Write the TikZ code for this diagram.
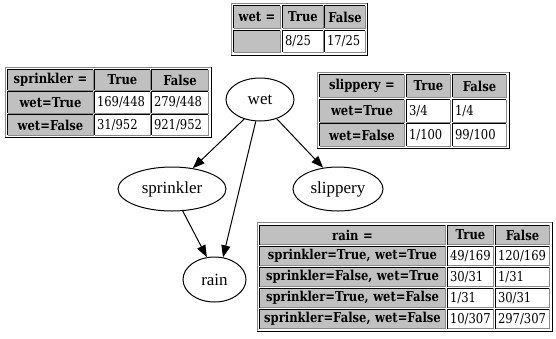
\documentclass[tikz,border=0pt]{standalone}
\usepackage{fontspec}
\setmainfont{DejaVu Serif}[FakeStretch=0.85]
\newfontfamily\ellfont{Liberation Serif}
\usetikzlibrary{arrows.meta,shapes.geometric}
\definecolor{hdr}{HTML}{C0C0C0}
\definecolor{lite}{HTML}{8A8A8A}
\tikzset{
  hcell/.style={fill=hdr, font=\bfseries\fontsize{13.6}{15}\selectfont, align=center, inner xsep=2pt, inner ysep=0pt},
  dcell/.style={fill=white, font=\fontsize{13.6}{15}\selectfont, align=left, inner xsep=2pt, inner ysep=0pt},
  celldark/.style={draw=black, line width=1pt},
  celllite/.style={draw=lite, line width=1pt},
  outerlite/.style={draw=lite, line width=1pt},
  outerdark/.style={draw=black, line width=1pt},
  var/.style={ellipse, draw=black, line width=1pt, inner sep=0pt, font=\ellfont\fontsize{17}{20}\selectfont},
  edge/.style={draw=black, line width=1pt, -{Triangle[length=12pt,width=9pt]}},
}
\newcommand{\mkcell}[7]{%
  \pgfmathsetmacro{\celltw}{#4-4}%
  \node[#6, text width=\celltw pt, minimum height=#5pt] (#1) at (#2,#3) {#7};
  \draw[celldark] (#1.south west) |- (#1.north east);
  \draw[celllite] (#1.north east) |- (#1.south west);
}
\newcommand{\mkouter}[4]{%
  \draw[outerlite] (#1,#4) -- (#1,#2) -- (#3,#2);
  \draw[outerdark] (#3,#2) -- (#3,#4) -- (#1,#4);
}
\begin{document}
\begin{tikzpicture}[x=1pt,y=-1pt]
\useasboundingbox[fill=white] (0,0) rectangle (556,338);
% wet table
\mkouter{231}{3}{367}{55}
\mkcell{wh1}{257}{17}{46}{22}{hcell}{wet =}
\mkcell{wh2}{303}{17}{40}{22}{hcell}{True}
\mkcell{wh3}{345}{17}{40}{22}{hcell}{False}
\mkcell{wr1}{257}{41.5}{46}{21}{hcell}{}
\mkcell{wd1}{303}{41.5}{40}{21}{dcell}{8/25}
\mkcell{wd2}{345}{41.5}{40}{21}{dcell}{17/25}
% sprinkler table
\mkouter{5}{67}{211}{137}
\mkcell{sh1}{50.5}{80}{85}{20}{hcell}{sprinkler =}
\mkcell{sh2}{122.5}{80}{55}{20}{hcell}{True}
\mkcell{sh3}{180}{80}{56}{20}{hcell}{False}
\mkcell{sr1}{50.5}{102.5}{85}{21}{hcell}{wet=True}
\mkcell{sd11}{122.5}{102.5}{55}{21}{dcell}{169/448}
\mkcell{sd12}{180}{102.5}{56}{21}{dcell}{279/448}
\mkcell{sr2}{50.5}{125}{85}{20}{hcell}{wet=False}
\mkcell{sd21}{122.5}{125}{55}{20}{dcell}{31/952}
\mkcell{sd22}{180}{125}{56}{20}{dcell}{921/952}
% slippery table
\mkouter{317}{72}{509}{148}
\mkcell{lh1}{362}{86}{84}{22}{hcell}{slippery =}
\mkcell{lh2}{428.5}{86}{43}{22}{hcell}{True}
\mkcell{lh3}{479.5}{86}{53}{22}{hcell}{False}
\mkcell{lr1}{362}{111}{84}{22}{hcell}{wet=True}
\mkcell{ld11}{428.5}{111}{43}{22}{dcell}{3/4}
\mkcell{ld12}{479.5}{111}{53}{22}{dcell}{1/4}
\mkcell{lr2}{362}{135}{84}{22}{hcell}{wet=False}
\mkcell{ld21}{428.5}{135}{43}{22}{dcell}{1/100}
\mkcell{ld22}{479.5}{135}{53}{22}{dcell}{99/100}
% rain table
\mkouter{257}{222}{552}{331}
\mkcell{rh1}{352.5}{235}{185}{19.5}{hcell}{rain =}
\mkcell{rh2}{470.5}{235}{45}{19.5}{hcell}{True}
\mkcell{rh3}{522.5}{235}{53}{19.5}{hcell}{False}
\mkcell{rr1}{352.5}{256}{185}{19.5}{hcell}{sprinkler=True, wet=True}
\mkcell{rd11}{470.5}{256}{45}{19.5}{dcell}{49/169}
\mkcell{rd12}{522.5}{256}{53}{19.5}{dcell}{120/169}
\mkcell{rr2}{352.5}{277}{185}{19.5}{hcell}{sprinkler=False, wet=True}
\mkcell{rd21}{470.5}{277}{45}{19.5}{dcell}{30/31}
\mkcell{rd22}{522.5}{277}{53}{19.5}{dcell}{1/31}
\mkcell{rr3}{352.5}{298}{185}{19.5}{hcell}{sprinkler=True, wet=False}
\mkcell{rd31}{470.5}{298}{45}{19.5}{dcell}{1/31}
\mkcell{rd32}{522.5}{298}{53}{19.5}{dcell}{30/31}
\mkcell{rr4}{352.5}{319}{185}{19.5}{hcell}{sprinkler=False, wet=False}
\mkcell{rd41}{470.5}{319}{45}{19.5}{dcell}{10/307}
\mkcell{rd42}{522.5}{319}{53}{19.5}{dcell}{297/307}
% graph
\node[var, minimum width=68pt, minimum height=43pt] (wet) at (260,99.5) {wet};
\node[var, minimum width=108pt, minimum height=44pt] (sprinkler) at (172,189) {sprinkler};
\node[var, minimum width=90pt, minimum height=44pt] (slippery) at (338,189) {slippery};
\node[var, minimum width=63pt, minimum height=45pt] (rain) at (214.5,279.5) {rain};
\draw[edge] (wet.231) -- (sprinkler.45);
\draw[edge] (wet.259.5) -- (rain.69);
\draw[edge] (wet.311) -- (slippery.125.5);
\draw[edge] (sprinkler.296.6) -- (rain.109.7);
\end{tikzpicture}
\end{document}
